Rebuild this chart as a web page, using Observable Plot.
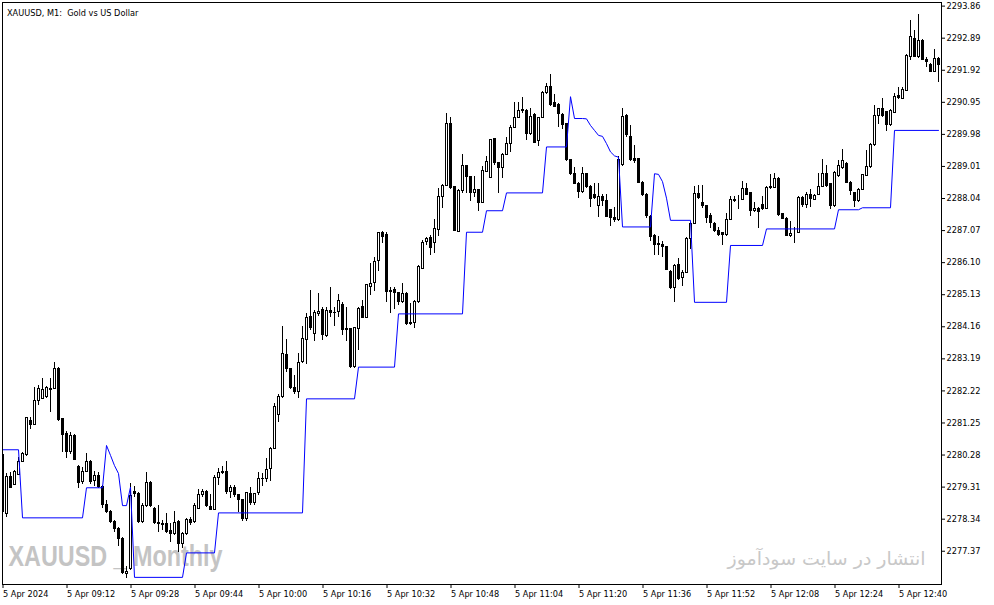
<!DOCTYPE html>
<html>
<head>
<meta charset="utf-8">
<script src="https://cdn.jsdelivr.net/npm/d3@7"></script>
<script src="https://cdn.jsdelivr.net/npm/@observablehq/plot@0.6"></script>
<style>
  html, body { margin: 0; padding: 0; background: #fff; }
  #chart svg { display: block; }
</style>
</head>
<body>
<div id="chart"></div>
<script>
// ---- data (M1 bars, index 0 = 08:56) ----
const opens = [
2280.27,2278.50,2279.63,2279.38,2279.69,2280.08,2280.27,2281.32,2281.20,2281.90,
2281.98,2282.03,2282.28,2282.28,2282.89,2281.38,2280.92,2280.37,2280.87,2279.91,
2279.46,2279.78,2280.06,2279.48,2279.66,2279.31,2278.78,2278.55,2278.25,2278.05,
2277.75,2276.69,2276.84,2279.15,2279.11,2278.25,2278.75,2279.44,2278.65,2278.22,
2278.20,2278.18,2277.98,2277.88,2278.25,2277.60,2277.88,2278.32,2278.25,2278.65,
2279.06,2279.16,2278.70,2278.62,2279.59,2279.74,2279.77,2279.16,2279.29,2279.06,
2278.93,2278.35,2279.09,2278.83,2279.14,2279.55,2279.56,2279.86,2280.47,2281.50,
2282.03,2283.32,2282.89,2282.30,2282.18,2283.10,2283.77,2284.47,2283.95,2284.55,
2284.68,2283.88,2284.65,2284.58,2284.60,2284.82,2284.10,2284.08,2282.94,2284.10,
2284.77,2284.42,2285.36,2285.49,2286.14,2286.99,2286.95,2285.20,2285.28,2285.18,
2284.90,2285.16,2284.28,2284.28,2284.90,2285.92,2286.72,2286.85,2286.70,2287.10,
2288.10,2288.43,2290.28,2288.38,2287.04,2288.26,2289.01,2288.69,2288.21,2288.29,
2287.91,2288.85,2288.67,2289.83,2289.10,2288.95,2289.37,2289.70,2290.18,2290.48,
2290.69,2290.69,2289.99,2290.56,2289.77,2290.48,2291.24,2291.42,2290.93,2290.88,
2290.56,2290.28,2289.20,2288.77,2288.49,2288.24,2288.77,2288.39,2288.14,2287.82,
2288.09,2287.97,2287.69,2287.46,2287.39,2289.05,2290.54,2289.90,2289.25,2289.23,
2288.51,2288.16,2287.49,2286.91,2286.66,2286.63,2286.58,2285.82,2285.34,2286.04,
2285.64,2285.80,2286.81,2287.28,2288.19,2287.90,2287.80,2287.50,2287.27,2287.05,
2286.99,2286.94,2287.40,2288.00,2288.00,2288.00,2288.33,2288.20,2287.66,2287.73,
2287.83,2287.73,2288.40,2288.36,2288.64,2287.56,2287.43,2286.90,2286.97,2287.00,
2288.06,2287.83,2288.16,2288.01,2288.16,2288.40,2288.79,2288.48,2287.80,2288.72,
2288.96,2289.09,2288.52,2288.20,2287.96,2288.30,2288.72,2288.99,2289.66,2290.53,
2290.75,2290.65,2290.25,2290.63,2291.15,2291.06,2291.29,2292.32,2292.87,2292.32,
2292.79,2292.24,2292.09,2291.86,2292.27
];
const highs = [
2280.35,2279.71,2279.76,2279.81,2280.22,2280.37,2281.42,2281.42,2282.33,2282.38,
2282.59,2282.35,2282.59,2283.09,2282.92,2281.40,2281.00,2280.95,2280.90,2279.96,
2279.90,2280.32,2280.10,2279.78,2279.76,2279.35,2278.92,2278.60,2278.30,2278.10,
2277.80,2276.90,2279.41,2279.32,2279.15,2278.80,2279.74,2279.48,2278.68,2278.75,
2278.30,2278.52,2278.22,2278.57,2278.30,2277.95,2278.35,2278.40,2278.80,2279.23,
2279.25,2279.20,2279.10,2279.65,2279.86,2279.92,2280.07,2279.35,2279.35,2279.10,
2278.95,2279.16,2279.31,2279.12,2279.76,2279.71,2280.17,2280.50,2281.83,2282.10,
2284.17,2283.78,2282.90,2282.70,2283.34,2284.17,2284.55,2285.26,2284.65,2285.18,
2284.75,2284.75,2285.34,2284.75,2285.13,2284.90,2284.75,2284.10,2284.15,2284.75,
2284.95,2285.45,2286.06,2286.27,2287.00,2287.04,2287.02,2285.36,2285.36,2285.21,
2285.46,2285.20,2284.85,2284.95,2286.00,2286.77,2286.86,2286.92,2287.40,2288.33,
2288.45,2290.60,2290.48,2288.40,2288.30,2289.36,2289.05,2288.72,2288.70,2288.30,
2289.00,2289.30,2289.83,2289.86,2289.12,2289.40,2289.88,2290.24,2290.93,2290.93,
2291.09,2290.72,2290.76,2290.62,2290.50,2291.27,2291.52,2291.79,2291.19,2290.90,
2290.60,2290.30,2289.22,2288.97,2288.52,2288.99,2288.80,2288.42,2288.49,2288.48,
2288.15,2288.15,2287.72,2287.76,2289.30,2290.76,2290.58,2290.26,2289.65,2289.26,
2288.55,2288.20,2287.52,2286.95,2286.88,2286.73,2286.60,2285.85,2286.05,2286.22,
2285.85,2286.85,2287.32,2288.39,2288.42,2288.42,2287.82,2287.60,2287.30,2287.17,
2287.02,2287.60,2288.10,2288.10,2288.13,2288.54,2288.48,2288.22,2287.93,2287.77,
2288.10,2288.40,2288.77,2288.79,2288.67,2287.60,2287.48,2287.35,2287.17,2288.10,
2288.10,2288.23,2288.30,2288.16,2288.79,2289.22,2289.04,2288.50,2288.85,2289.19,
2289.51,2289.12,2288.55,2288.23,2288.33,2288.76,2289.49,2289.71,2290.85,2290.77,
2291.06,2290.68,2290.72,2291.21,2291.39,2291.39,2292.40,2293.43,2293.12,2293.60,
2292.85,2292.30,2292.12,2292.54,2292.30
];
const lows = [
2278.50,2278.38,2279.26,2279.35,2279.66,2280.05,2280.25,2281.04,2281.18,2281.78,
2281.95,2281.99,2281.58,2282.25,2281.28,2280.37,2280.17,2280.30,2280.10,2279.28,
2279.40,2279.75,2279.40,2279.33,2279.28,2278.65,2278.50,2278.20,2277.95,2277.50,
2276.68,2276.56,2276.80,2279.00,2278.20,2278.20,2278.70,2278.70,2278.18,2277.95,
2278.00,2277.90,2277.62,2277.85,2277.34,2277.44,2277.85,2278.15,2278.20,2278.62,
2279.00,2278.70,2278.60,2278.60,2279.36,2279.70,2279.10,2278.96,2279.00,2278.55,
2278.27,2278.27,2278.75,2278.75,2279.06,2279.33,2279.44,2279.49,2280.45,2281.27,
2282.00,2282.79,2282.25,2282.12,2281.98,2283.05,2283.02,2284.05,2283.72,2284.48,
2283.74,2283.85,2284.44,2284.17,2284.45,2283.90,2283.72,2282.90,2282.90,2283.44,
2284.40,2284.40,2285.10,2285.23,2285.84,2286.67,2284.90,2284.55,2284.68,2284.80,
2284.85,2284.20,2284.20,2284.12,2284.85,2285.90,2286.62,2286.32,2286.37,2286.89,
2287.73,2288.40,2288.30,2287.05,2287.00,2288.20,2288.18,2287.96,2288.07,2287.66,
2287.88,2288.82,2288.65,2289.05,2288.19,2288.65,2289.35,2289.43,2290.15,2290.45,
2290.60,2289.80,2289.95,2289.70,2289.60,2290.45,2291.20,2290.83,2290.78,2290.18,
2290.14,2289.15,2288.75,2288.45,2288.05,2288.20,2288.35,2287.76,2288.00,2287.46,
2287.80,2287.47,2287.18,2287.32,2287.35,2289.00,2289.90,2289.15,2289.10,2288.48,
2288.10,2287.45,2286.73,2286.31,2286.33,2286.25,2285.85,2285.30,2284.88,2285.55,
2285.37,2285.76,2286.50,2287.25,2288.00,2287.73,2287.28,2287.12,2287.00,2286.89,
2286.62,2286.90,2287.38,2287.92,2287.70,2287.97,2288.12,2287.50,2287.62,2287.12,
2287.68,2287.70,2288.32,2288.33,2287.50,2287.40,2286.88,2286.87,2286.67,2286.97,
2287.77,2287.73,2287.76,2287.98,2288.13,2288.37,2288.38,2287.70,2287.77,2288.69,
2288.93,2288.50,2288.13,2287.76,2287.93,2288.27,2288.70,2288.96,2289.62,2290.28,
2290.50,2290.08,2290.22,2290.60,2291.05,2291.03,2291.27,2292.20,2292.30,2292.29,
2292.20,2292.00,2291.84,2291.84,2291.56
];
const closes = [
2278.55,2279.61,2279.28,2279.76,2280.06,2280.32,2281.39,2281.20,2281.91,2282.28,
2282.25,2282.31,2282.25,2282.89,2281.33,2280.89,2280.37,2280.87,2280.12,2279.43,
2279.78,2280.08,2279.46,2279.66,2279.31,2278.78,2278.55,2278.25,2278.05,2277.75,
2276.72,2276.75,2279.05,2279.11,2278.25,2278.75,2279.44,2278.75,2278.22,2278.18,
2278.15,2277.95,2277.88,2278.22,2277.60,2277.88,2278.32,2278.22,2278.73,2279.06,
2279.16,2278.75,2278.62,2279.59,2279.74,2279.77,2279.16,2279.29,2279.06,2278.91,
2278.35,2279.14,2278.83,2279.09,2279.56,2279.57,2279.83,2280.47,2281.73,2282.05,
2283.34,2282.89,2282.30,2282.18,2283.07,2283.80,2284.43,2284.12,2284.58,2284.62,
2283.90,2284.65,2284.58,2284.57,2284.95,2284.07,2284.05,2282.94,2284.12,2284.70,
2284.42,2285.41,2285.44,2286.13,2286.99,2286.87,2285.20,2285.23,2285.19,2284.90,
2285.16,2284.25,2284.24,2284.90,2285.96,2286.70,2286.82,2286.54,2287.12,2288.10,
2288.41,2290.28,2288.35,2287.07,2288.28,2289.01,2288.69,2288.21,2288.29,2287.91,
2288.87,2289.15,2289.81,2289.10,2288.97,2289.37,2289.70,2290.18,2290.48,2290.69,
2290.72,2289.99,2290.51,2289.72,2290.48,2291.24,2291.42,2290.86,2290.81,2290.59,
2290.26,2289.20,2288.77,2288.49,2288.24,2288.77,2288.39,2288.04,2288.06,2288.09,
2287.97,2287.49,2287.44,2287.39,2289.20,2290.51,2289.96,2289.20,2289.17,2288.51,
2288.16,2287.50,2286.88,2286.63,2286.63,2286.56,2285.87,2285.34,2286.00,2285.62,
2285.80,2286.81,2287.28,2288.19,2288.06,2287.80,2287.44,2287.30,2287.07,2286.95,
2286.95,2287.40,2288.00,2287.98,2288.00,2288.33,2288.15,2287.66,2287.73,2287.63,
2287.73,2288.36,2288.35,2288.64,2287.53,2287.43,2286.90,2286.97,2286.97,2288.06,
2287.83,2288.16,2288.03,2288.13,2288.40,2288.79,2288.41,2287.80,2288.82,2289.01,
2289.19,2288.52,2288.26,2287.96,2288.30,2288.74,2288.99,2289.66,2290.53,2290.75,
2290.53,2290.25,2290.70,2291.11,2291.09,2291.31,2292.34,2292.92,2292.32,2292.82,
2292.22,2292.16,2291.86,2292.27,2292.09
];

// blue indicator line: bar index and value at each vertex
const lineBars = [0,4,5,20,21,25,26,27,28,29,30,31,32,33,45,46,53,54,75,76,88,89,98,99,115,116,120,121,125,126,
  135,136,141,142,143,145,146,147,148,149,150,151,152,153,154,155,162,163,164,165,166,167,172,173,181,182,190,191,208,209,
  214,215,222,223,234];
const lineValues = [2280.44,2280.44,2278.38,2278.38,2279.29,2279.29,2280.57,2280.27,2279.96,2279.72,
  2278.75,2278.75,2279.31,2276.58,2276.58,2277.32,2277.32,2278.53,2278.53,2281.98,
  2281.98,2282.94,2282.94,2284.55,2284.55,2287.02,2287.02,2287.67,2287.67,2288.21,
  2288.21,2289.60,2289.60,2291.12,2290.46,2290.46,2290.45,2290.25,2290.10,2289.95,
  2289.92,2289.70,2289.45,2289.33,2289.29,2287.18,2287.18,2288.79,2288.77,2288.55,
  2288.05,2287.38,2287.38,2284.90,2284.90,2286.62,2286.62,2287.12,2287.12,2287.70,
  2287.70,2287.76,2287.76,2290.10,2290.10];

const yTicks = [2277.37,2278.34,2279.31,2280.28,2281.25,2282.22,2283.19,2284.16,2285.13,
  2286.10,2287.07,2288.04,2289.01,2289.98,2290.95,2291.92,2292.89,2293.86];
const xTickBars = [0,16,32,48,64,80,96,112,128,144,160,176,192,208,224];
const xTickLabels = ["5 Apr 2024","5 Apr 09:12","5 Apr 09:28","5 Apr 09:44","5 Apr 10:00",
  "5 Apr 10:16","5 Apr 10:32","5 Apr 10:48","5 Apr 11:04","5 Apr 11:20","5 Apr 11:36",
  "5 Apr 11:52","5 Apr 12:08","5 Apr 12:24","5 Apr 12:40"];
const titleText = "XAUUSD, M1:  Gold vs US Dollar";
const watermarkLeft = "XAUUSD _ Monthly";
const watermarkRight = "انتشار در سایت سودآموز";

// ---- build ----
const candles = opens.map((o, i) => ({i, o, h: Math.max(highs[i], o, closes[i]), l: Math.min(lows[i], o, closes[i]), c: closes[i]}));
const bull = candles.filter(d => d.c >= d.o);
const bear = candles.filter(d => d.c < d.o);
const line = lineBars.map((b, j) => ({i: b, v: lineValues[j]}));

const chart = Plot.plot({
  width: 994,
  height: 605,
  marginLeft: 2,
  marginRight: 53,
  marginTop: 2,
  marginBottom: 21,
  style: {fontFamily: "DejaVu Sans, sans-serif", fontSize: "8.2px", background: "#fff", color: "#000"},
  x: {domain: [0, 234.75], label: null},
  y: {domain: [2276.364, 2293.9695], label: null},
  marks: [
    Plot.text([watermarkLeft], {text: d => d, frameAnchor: "bottom-left", textAnchor: "start", dx: 6, dy: -19,
      fontSize: 30, fontWeight: "bold", fontFamily: "Liberation Sans, Arial, sans-serif", fill: "#c4c4c4"}),
    Plot.text([watermarkRight], {text: d => d, frameAnchor: "bottom-right", textAnchor: "end", dx: -16, dy: -20,
      fontSize: 18, fontFamily: "DejaVu Sans, sans-serif", fill: "#c8c8c8"}),
    Plot.ruleX(candles, {x: "i", y1: "l", y2: "h", stroke: "#000", strokeWidth: 1, clip: true, shapeRendering: "crispEdges"}),
    Plot.rect(bull, {x1: d => d.i - 0.25, x2: d => d.i + 0.25, y1: "o", y2: "c", fill: "#fff", stroke: "#000", strokeWidth: 1, inset: 0, clip: true, shapeRendering: "crispEdges"}),
    Plot.rect(bear, {x1: d => d.i - 0.25, x2: d => d.i + 0.25, y1: "o", y2: "c", fill: "#000", stroke: "#000", strokeWidth: 1, inset: 0, clip: true, shapeRendering: "crispEdges"}),
    Plot.line(line, {x: "i", y: "v", stroke: "#0000ff", strokeWidth: 1, clip: true}),
    Plot.frame({stroke: "#000", shapeRendering: "crispEdges"}),
    Plot.axisY(yTicks, {anchor: "right", tickSize: 3, tickPadding: 2, tickFormat: d => d.toFixed(2), label: null}),
    Plot.axisX(xTickBars, {anchor: "bottom", tickSize: 4, tickPadding: 3, textAnchor: "start", dx: 0.5,
      tickFormat: d => xTickLabels[xTickBars.indexOf(d)], label: null}),
    Plot.text([titleText], {text: d => d, frameAnchor: "top-left", textAnchor: "start", dx: 4.5, dy: 8, fill: "#000"})
  ]
});

const svg = d3.select(chart);
svg.selectAll("text").each(function() {
  const t = this.textContent;
  if (t === watermarkLeft) d3.select(this).attr("textLength", 214).attr("lengthAdjust", "spacingAndGlyphs");
  if (t === watermarkRight) d3.select(this).attr("textLength", 198).attr("lengthAdjust", "spacingAndGlyphs");
  if (t === titleText) d3.select(this).attr("xml:space", "preserve").style("white-space", "pre");
});

document.getElementById("chart").appendChild(chart);
</script>
</body>
</html>
